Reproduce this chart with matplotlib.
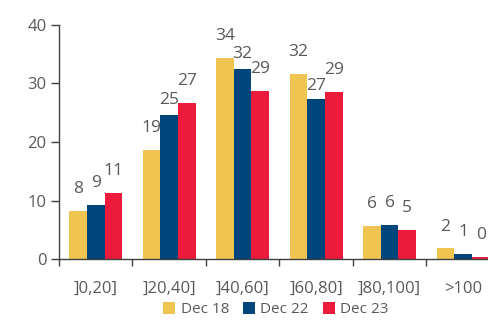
import matplotlib.pyplot as plt
import numpy as np

plt.rcParams['font.family'] = ['Open Sans', 'DejaVu Sans']

categories = [']0,20]', ']20,40]', ']40,60]', ']60,80]', ']80,100]', '>100']
series = ['Dec 18', 'Dec 22', 'Dec 23']
dec18 = [8.2, 18.7, 34.3, 31.7, 5.6, 1.8]
dec22 = [9.3, 24.7, 32.5, 27.3, 5.8, 0.9]
dec23 = [11.3, 26.6, 28.7, 28.6, 4.9, 0.4]
values = [dec18, dec22, dec23]

colors = ['#F0C450', '#00467D', '#EC1B3B']
grey = '#595959'
# label offsets (points) above bar tops; a few were nudged down in the original
offsets = [[10] * 6,
           [10, 5, 5, 4, 10, 10],
           [10] * 6]

fig = plt.figure(figsize=(4.89, 3.2), dpi=100)
ax = fig.add_axes([0.1207, 0.1906, 0.9013, 0.7313])

x = np.arange(len(categories))
w = 0.24
for i, (name, vals) in enumerate(zip(series, values)):
    pos = x + (i - 1) * w
    ax.bar(pos, vals, width=w, color=colors[i], label=name, zorder=2)
    for p, v, off in zip(pos, vals, offsets[i]):
        ax.annotate(f'{round(v):d}', (p, v), xytext=(0, off), textcoords='offset points',
                    ha='center', va='bottom', fontsize=12.5, color=grey)

ax.set_xlim(-0.5, len(categories) - 0.5)
ax.set_ylim(0, 40)
ax.set_yticks([0, 10, 20, 30, 40])
ax.set_xticks(x)
ax.set_xticklabels(categories)
ax.set_xticks(np.arange(-0.5, len(categories)), minor=True)
ax.tick_params(axis='x', which='major', length=0, pad=16, labelsize=12, labelcolor=grey)
ax.tick_params(axis='x', which='minor', length=5, width=1, color='#404040', direction='out')
ax.tick_params(axis='y', length=6, width=1, color='#404040', pad=3, labelsize=12, labelcolor=grey)
for s in ['top', 'right']:
    ax.spines[s].set_visible(False)
for s in ['left', 'bottom']:
    ax.spines[s].set_color('#404040')
    ax.spines[s].set_linewidth(1)

fig.legend(loc='lower center', bbox_to_anchor=(0.564, -0.035), ncol=3, frameon=False,
           handlelength=0.8, handleheight=0.8, handletextpad=0.35, columnspacing=0.9,
           fontsize=11, labelcolor=grey)

fig.savefig('out.png', dpi=100)
